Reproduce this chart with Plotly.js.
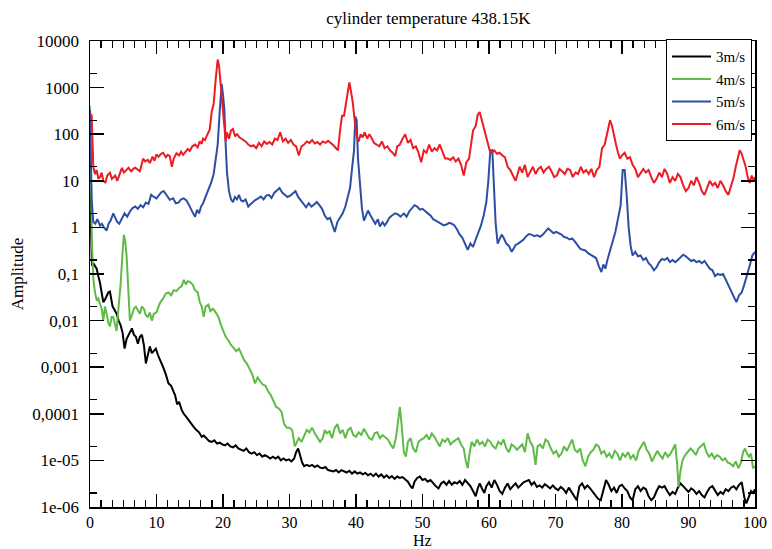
<!DOCTYPE html>
<html>
<head>
<meta charset="utf-8">
<script src="https://cdn.plot.ly/plotly-3.0.1.min.js"></script>
<style>html,body{margin:0;padding:0;background:#fff;}#chart{width:772px;height:549px;}</style>
</head>
<body>
<div id="chart"></div>
<script>
const chartTitle = "cylinder temperature 438.15K";
const xTitle = "Hz";
const yTitle = "Amplitude";
const seriesNames = ["3m/s", "4m/s", "5m/s", "6m/s"];
const yTickVals = [1e4, 1e3, 100, 10, 1, 0.1, 0.01, 0.001, 0.0001, 1e-5, 1e-6];
const yTickText = ["10000", "1000", "100", "10", "1", "0,1", "0,01", "0,001", "0,0001", "1e-05", "1e-06"];
const xTickVals = [0, 10, 20, 30, 40, 50, 60, 70, 80, 90, 100];

// 3m/s (black)
const hzBlack = [0,0.15,0.3,0.5,0.75,1.0,1.25,1.5,1.75,2.0,2.25,2.5,2.75,3.0,3.2,3.4,3.6,3.8,4.0,4.3,4.6,4.9,5.2,5.5,5.8,6.1,6.3,6.6,6.9,7.2,7.5,7.8,8.1,8.4,8.7,9.0,9.3,9.6,9.9,10.3,10.6,11.0,11.4,11.8,12.2,12.5,12.8,13.1,13.4,13.8,14.1,14.5,14.9,15.3,15.7,16.0,16.4,16.8,17.1,17.5,17.9,18.3,18.7,19.1,19.5,19.9,20.3,20.7,21.1,21.5,21.9,22.3,22.7,23.1,23.5,23.9,24.3,24.7,25.1,25.5,25.9,26.3,26.7,27.1,27.5,27.9,28.3,28.7,29.1,29.5,29.9,30.3,30.7,31.0,31.3,31.6,31.9,32.2,32.6,33.0,33.4,33.8,34.2,34.6,35.0,35.4,35.8,36.2,36.6,37.0,37.4,37.8,38.2,38.6,39.0,39.4,39.8,40.2,40.6,41.0,41.4,41.8,42.2,42.6,43.0,43.4,43.8,44.2,44.6,45.0,45.4,45.8,46.2,46.6,47.0,47.4,47.8,48.2,48.5,48.8,49.2,49.6,50.0,50.4,50.8,51.2,51.6,52.0,52.4,52.8,53.2,53.6,54.0,54.4,54.8,55.2,55.6,56.0,56.4,56.8,57.2,57.6,58.0,58.3,58.6,59.0,59.3,59.6,60.0,60.4,60.8,61.2,61.6,62.0,62.4,62.8,63.2,63.6,64.0,64.4,64.8,65.2,65.6,66.0,66.4,66.8,67.2,67.6,68.0,68.4,68.8,69.2,69.6,70.0,70.4,70.8,71.2,71.6,72.0,72.4,72.8,73.2,73.6,74.0,74.4,74.8,75.2,75.6,76.0,76.4,76.8,77.2,77.6,78.0,78.4,78.8,79.2,79.6,80.0,80.4,80.8,81.2,81.6,82.0,82.4,82.8,83.2,83.6,84.0,84.4,84.8,85.2,85.6,86.0,86.4,86.8,87.2,87.6,88.0,88.4,88.8,89.2,89.6,90.0,90.4,90.8,91.2,91.6,92.0,92.4,92.8,93.2,93.6,94.0,94.4,94.8,95.2,95.6,96.0,96.4,96.8,97.2,97.6,98.0,98.4,98.7,99.0,99.4,99.7,100];
const ampBlack = [6,0.9,0.15,0.17,0.15,0.13,0.09,0.065,0.04,0.025,0.028,0.035,0.04,0.042,0.03,0.02,0.018,0.016,0.014,0.01,0.008,0.0055,0.0025,0.004,0.005,0.006,0.0068,0.005,0.0045,0.0032,0.0045,0.005,0.003,0.0012,0.002,0.0028,0.002,0.0022,0.0025,0.0017,0.0014,0.001,0.0007,0.00045,0.0004,0.00032,0.00025,0.00016,0.00018,0.00012,0.0001,0.000085,0.00007,0.00006,0.00005,0.000045,0.00004,0.000032,0.000034,0.00003,0.000026,0.000025,0.000027,0.000023,0.000024,0.000022,0.000021,0.000023,0.00002,0.000019,0.000021,0.000018,0.000017,0.000016,0.000018,0.000015,0.000014,0.000015,0.000013,0.000014,0.000012,0.000013,0.000012,0.000011,0.000012,0.000011,0.000012,0.00001,0.000011,0.00001,0.0000105,0.0000095,0.000011,0.000015,0.000018,0.000012,0.000009,0.0000075,0.000008,0.0000075,0.000008,0.0000072,0.0000078,0.000007,0.0000068,0.0000072,0.0000062,0.000006,0.0000058,0.0000062,0.0000055,0.0000062,0.0000058,0.0000055,0.000006,0.0000052,0.0000058,0.0000052,0.0000055,0.000005,0.0000054,0.0000048,0.0000052,0.0000046,0.0000052,0.0000045,0.000005,0.0000043,0.0000048,0.0000042,0.0000046,0.000004,0.0000045,0.0000042,0.0000044,0.000004,0.0000035,0.0000028,0.0000025,0.0000035,0.0000042,0.0000045,0.0000038,0.000004,0.0000035,0.0000038,0.0000032,0.0000028,0.0000025,0.0000032,0.0000035,0.000003,0.0000036,0.000003,0.0000034,0.0000032,0.0000036,0.000003,0.0000038,0.0000032,0.0000028,0.0000022,0.0000017,0.0000025,0.0000032,0.0000024,0.000002,0.0000028,0.0000034,0.0000026,0.0000038,0.000003,0.0000022,0.0000019,0.0000026,0.0000032,0.0000024,0.0000028,0.0000032,0.0000026,0.000003,0.0000034,0.0000036,0.0000038,0.000003,0.0000034,0.0000027,0.0000029,0.0000026,0.0000031,0.0000028,0.0000025,0.0000029,0.0000025,0.0000023,0.0000027,0.0000024,0.000002,0.0000026,0.0000021,0.0000017,0.0000014,0.0000028,0.0000032,0.0000025,0.0000029,0.0000025,0.0000021,0.0000018,0.0000015,0.0000014,0.0000025,0.0000038,0.000003,0.0000022,0.0000026,0.000002,0.0000028,0.000003,0.0000025,0.0000022,0.0000016,0.0000014,0.0000024,0.0000028,0.0000022,0.0000026,0.0000024,0.0000017,0.0000014,0.0000016,0.0000022,0.0000028,0.0000026,0.0000028,0.0000022,0.0000018,0.0000021,0.0000019,0.0000026,0.0000032,0.0000028,0.0000024,0.0000021,0.0000025,0.0000023,0.0000019,0.0000022,0.0000018,0.0000016,0.0000021,0.0000026,0.0000028,0.0000022,0.0000018,0.0000021,0.0000019,0.0000024,0.0000022,0.0000026,0.0000028,0.0000024,0.000003,0.0000034,0.0000016,0.0000012,0.0000015,0.0000022,0.000002,0.0000024];

// 4m/s (green)
const hzGreen = [0,0.15,0.3,0.5,0.75,1.0,1.25,1.5,1.75,2.0,2.25,2.5,2.75,3.0,3.25,3.5,3.75,4.0,4.3,4.6,4.9,5.1,5.3,5.5,5.75,6.0,6.3,6.6,6.9,7.2,7.5,7.8,8.1,8.4,8.7,9.0,9.3,9.6,10.0,10.3,10.6,11.0,11.4,11.8,12.2,12.6,13.0,13.4,13.8,14.1,14.4,14.7,15.0,15.4,15.8,16.2,16.5,16.8,17.1,17.4,17.8,18.1,18.5,18.9,19.3,19.7,20.0,20.4,20.8,21.2,21.6,22.0,22.4,22.8,23.2,23.6,24.0,24.4,24.8,25.2,25.6,26.0,26.4,26.8,27.2,27.6,28.0,28.4,28.8,29.2,29.6,30.0,30.4,30.8,31.1,31.4,31.8,32.2,32.6,33.0,33.4,33.8,34.2,34.6,35.0,35.3,35.6,36.0,36.4,36.8,37.2,37.6,38.0,38.4,38.8,39.2,39.6,40.0,40.4,40.8,41.2,41.6,42.0,42.4,42.8,43.2,43.6,44.0,44.4,44.8,45.2,45.6,46.0,46.3,46.6,46.9,47.2,47.5,47.8,48.2,48.6,49.0,49.4,49.8,50.2,50.6,51.0,51.4,51.8,52.2,52.6,53.0,53.4,53.8,54.2,54.6,55.0,55.4,55.8,56.2,56.5,56.8,57.1,57.4,57.8,58.2,58.6,59.0,59.4,59.8,60.2,60.6,61.0,61.4,61.8,62.2,62.6,63.0,63.4,63.8,64.2,64.6,65.0,65.4,65.8,66.2,66.6,67.0,67.3,67.7,68.1,68.5,68.9,69.3,69.7,70.1,70.5,70.9,71.3,71.7,72.1,72.5,72.9,73.3,73.7,74.1,74.5,74.9,75.3,75.7,76.1,76.5,76.9,77.3,77.7,78.1,78.5,78.9,79.3,79.7,80.1,80.5,80.9,81.3,81.7,82.1,82.5,82.9,83.3,83.7,84.1,84.5,84.9,85.3,85.7,86.1,86.5,86.9,87.3,87.7,88.0,88.3,88.5,88.8,89.1,89.5,89.9,90.3,90.7,91.1,91.5,91.9,92.3,92.7,93.1,93.5,93.9,94.3,94.7,95.1,95.5,95.9,96.3,96.7,97.1,97.5,97.9,98.2,98.5,98.8,99.1,99.4,99.7,100];
const ampGreen = [400,20,0.4,0.08,0.04,0.028,0.03,0.023,0.018,0.01,0.02,0.014,0.009,0.0075,0.012,0.012,0.009,0.006,0.02,0.06,0.3,0.7,0.5,0.25,0.05,0.01,0.013,0.018,0.02,0.016,0.014,0.02,0.018,0.013,0.012,0.015,0.01,0.014,0.015,0.02,0.025,0.03,0.038,0.04,0.035,0.045,0.043,0.05,0.055,0.075,0.06,0.07,0.068,0.06,0.045,0.04,0.025,0.02,0.012,0.02,0.022,0.016,0.018,0.015,0.012,0.008,0.006,0.0045,0.0038,0.003,0.0026,0.0022,0.0025,0.0018,0.0014,0.0012,0.0009,0.0007,0.00045,0.0006,0.0005,0.00042,0.0004,0.0003,0.00025,0.00018,0.00014,0.00013,0.00011,0.00006,0.00005,0.00005,0.000045,0.00002,0.000025,0.00003,0.000025,0.000035,0.000045,0.00004,0.00005,0.000038,0.00003,0.000025,0.00003,0.000045,0.000038,0.000042,0.00003,0.00005,0.00006,0.000038,0.000045,0.00003,0.000045,0.00005,0.000035,0.000032,0.00004,0.000035,0.000048,0.000038,0.00003,0.000028,0.000038,0.00004,0.00003,0.000035,0.000032,0.000028,0.000022,0.000018,0.00003,0.00007,0.00014,0.00005,0.000015,0.000012,0.000025,0.00003,0.000018,0.000015,0.000025,0.000028,0.00003,0.000035,0.000028,0.000038,0.000032,0.000025,0.00002,0.000028,0.000025,0.00003,0.000022,0.000025,0.000028,0.00003,0.000022,0.000018,0.00001,0.0000068,0.000015,0.000025,0.00002,0.000028,0.000022,0.000025,0.00002,0.000028,0.000025,0.00002,0.000018,0.000025,0.000022,0.000028,0.000018,0.000015,0.000022,0.00002,0.000017,0.000019,0.000022,0.000015,0.000038,0.000025,0.00002,0.000008,0.00002,0.000022,0.000018,0.000028,0.000025,0.000018,0.000014,0.000016,0.000012,0.000014,0.00002,0.000016,0.000022,0.000028,0.000017,0.000015,0.000018,0.00001,0.0000075,0.000012,0.000015,0.000017,0.000022,0.00002,0.000014,0.000016,0.000012,0.000014,0.000011,0.000016,0.000014,0.00001,0.000014,0.000012,0.000015,0.000011,0.000013,0.00001,0.000016,0.00002,0.000025,0.000017,0.000014,0.0000095,0.000012,0.000016,0.000013,0.000011,0.000015,0.000012,0.000014,0.000018,0.000022,0.000008,0.0000027,0.000006,0.00001,0.000013,0.000015,0.000018,0.000016,0.000013,0.000018,0.00002,0.000023,0.000015,0.000012,0.000014,0.000011,0.000013,0.000012,0.00001,0.000011,0.000009,0.0000085,0.0000075,0.0000095,0.0000068,0.000009,0.000015,0.000018,0.000014,0.000012,0.000014,0.0000068,0.0000075];

// 5m/s (blue)
const hzBlue = [0,0.25,0.5,0.8,1.1,1.5,1.8,2.1,2.5,2.8,3.1,3.5,3.8,4.1,4.4,4.8,5.2,5.6,6.0,6.4,6.8,7.2,7.6,8.0,8.4,8.8,9.2,9.6,10.0,10.4,10.8,11.1,11.5,12.0,12.5,12.9,13.3,13.7,14.1,14.5,14.9,15.2,15.5,15.8,16.1,16.4,16.7,17.0,17.4,17.8,18.2,18.6,18.9,19.2,19.5,19.8,20.0,20.2,20.4,20.6,20.9,21.2,21.5,21.8,22.1,22.4,22.7,23.0,23.4,23.8,24.1,24.5,24.9,25.3,25.7,26.1,26.5,26.9,27.3,27.7,28.1,28.5,28.9,29.3,29.7,30.1,30.5,30.9,31.3,31.7,32.1,32.5,32.9,33.3,33.7,34.1,34.5,34.9,35.3,35.7,36.1,36.5,36.8,37.2,37.6,38.0,38.4,38.8,39.1,39.4,39.7,39.9,40.1,40.3,40.6,40.9,41.2,41.5,41.8,42.1,42.5,42.9,43.3,43.6,44.0,44.3,44.6,45.0,45.4,45.9,46.3,46.7,47.2,47.6,48.0,48.4,48.8,49.2,49.6,50.0,50.4,50.8,51.2,51.6,52.0,52.4,52.8,53.2,53.6,54.0,54.4,54.8,55.2,55.6,56.0,56.4,56.8,57.2,57.6,58.0,58.4,58.8,59.2,59.6,59.9,60.2,60.5,60.7,61.0,61.3,61.6,61.9,62.2,62.6,63.0,63.4,63.7,64.0,64.4,64.8,65.2,65.6,66.0,66.4,66.8,67.2,67.7,68.1,68.5,68.9,69.3,69.7,70.1,70.5,70.9,71.3,71.7,72.1,72.5,72.9,73.3,73.7,74.1,74.5,74.9,75.3,75.7,76.1,76.5,76.9,77.2,77.5,77.8,78.2,78.6,79.0,79.4,79.8,80.1,80.4,80.7,81.0,81.3,81.6,82.0,82.4,82.8,83.2,83.6,84.0,84.4,84.8,85.2,85.6,86.0,86.4,86.8,87.2,87.6,88.0,88.4,88.8,89.2,89.6,90.0,90.4,90.8,91.2,91.6,92.0,92.4,92.8,93.2,93.6,94.0,94.4,94.8,95.2,95.6,96.0,96.4,96.8,97.2,97.6,98.0,98.4,98.8,99.2,99.6,100];
const ampBlue = [330,4,1.3,1.2,1.5,1.1,1.2,1.0,0.85,1.2,1.4,2.0,1.6,1.3,1.2,1.6,2.0,1.7,2.2,2.6,2.8,2.5,3.0,2.7,3.4,3.2,5.0,4.5,4.2,5.0,5.8,6.0,4.8,3.9,4.2,3.3,3.4,4.0,4.2,3.8,3.0,2.4,2.0,1.7,2.4,2.0,2.8,3.3,4.5,6.5,9,14,30,60,300,1200,700,350,60,15,6,4.0,3.5,4.5,4.0,5.0,3.8,3.6,4.0,2.8,3.1,3.5,3.9,4.2,4.6,4.0,4.8,5.0,4.3,5.5,6.2,7.0,5.6,5.0,4.5,4.8,5.5,6.0,4.5,3.8,3.3,2.7,3.3,2.8,3.1,3.5,3.0,2.5,1.8,1.5,1.6,1.1,0.8,1.3,1.6,2.0,2.8,4.5,7,18,45,240,200,30,8,2.5,1.4,1.8,2.3,1.9,1.5,1.2,1.5,1.05,1.3,1.1,1.25,1.6,1.8,2.0,1.9,1.7,2.0,1.7,2.2,2.6,3.0,2.8,2.4,2.5,2.2,2.0,1.8,1.5,1.4,1.3,1.2,1.1,1.15,1.25,1.2,1.1,0.9,0.7,0.6,0.45,0.33,0.45,0.38,0.55,0.75,1.1,1.8,3.5,10,45,45,8,1.2,0.45,0.55,0.7,0.6,0.45,0.4,0.3,0.35,0.42,0.45,0.5,0.55,0.65,0.72,0.7,0.65,0.68,0.63,0.7,0.8,0.95,0.85,0.75,0.8,0.75,0.7,0.62,0.6,0.55,0.58,0.5,0.42,0.35,0.33,0.32,0.28,0.26,0.24,0.22,0.15,0.11,0.16,0.13,0.2,0.3,0.5,0.8,1.5,3,17,17,5,1.0,0.4,0.25,0.3,0.24,0.25,0.2,0.22,0.17,0.15,0.12,0.14,0.18,0.21,0.2,0.22,0.18,0.2,0.18,0.2,0.23,0.26,0.24,0.21,0.19,0.2,0.18,0.19,0.17,0.19,0.16,0.13,0.12,0.09,0.1,0.095,0.1,0.075,0.055,0.045,0.032,0.025,0.035,0.04,0.06,0.09,0.15,0.25,0.3];

// 6m/s (red)
const hzRed = [0,0.25,0.5,0.75,1.0,1.25,1.5,1.75,2.0,2.3,2.6,3.0,3.3,3.6,3.8,4.1,4.5,4.8,5.1,5.5,5.8,6.2,6.5,6.8,7.2,7.5,8.0,8.3,8.7,9.0,9.4,9.7,10.0,10.3,10.7,11.0,11.4,11.7,12.0,12.3,12.6,13.0,13.4,13.7,14.0,14.3,14.7,15.0,15.4,15.8,16.2,16.5,16.8,17.0,17.3,17.6,18.0,18.3,18.6,18.9,19.2,19.4,19.6,19.8,20.1,20.4,20.6,20.9,21.2,21.5,21.8,22.1,22.5,23.0,23.4,23.8,24.2,24.6,25.0,25.4,25.8,26.2,26.6,27.0,27.4,27.8,28.2,28.6,29.0,29.4,29.8,30.2,30.6,31.0,31.4,31.8,32.2,32.6,33.0,33.4,33.8,34.2,34.6,35.0,35.4,35.8,36.2,36.6,37.0,37.3,37.6,37.9,38.2,38.5,38.8,39.0,39.2,39.5,39.8,40.1,40.4,40.7,41.0,41.3,41.7,42.0,42.3,42.7,43.1,43.5,43.9,44.3,44.7,45.1,45.5,45.9,46.2,46.6,47.0,47.4,47.8,48.2,48.6,49.0,49.4,49.8,50.2,50.6,51.0,51.4,51.8,52.2,52.6,53.0,53.4,53.8,54.2,54.6,55.0,55.4,55.8,56.2,56.6,57.0,57.3,57.6,58.0,58.3,58.6,58.9,59.2,59.5,59.8,60.1,60.4,60.8,61.2,61.6,62.0,62.4,62.8,63.2,63.6,64.0,64.3,64.6,65.0,65.4,65.8,66.2,66.6,67.0,67.4,67.8,68.2,68.6,69.0,69.4,69.8,70.2,70.6,71.0,71.4,71.8,72.2,72.6,73.0,73.4,73.8,74.2,74.6,75.0,75.4,75.8,76.2,76.6,77.0,77.4,77.7,78.0,78.2,78.5,78.8,79.1,79.4,79.7,80.0,80.4,80.8,81.2,81.6,82.0,82.4,82.8,83.2,83.6,84.0,84.4,84.8,85.2,85.6,86.0,86.4,86.8,87.2,87.6,88.0,88.4,88.8,89.2,89.6,90.0,90.4,90.8,91.2,91.6,92.0,92.4,92.8,93.2,93.6,94.0,94.4,94.8,95.2,95.6,96.0,96.4,96.8,97.1,97.4,97.7,98.0,98.3,98.6,98.9,99.2,99.5,99.8,100];
const ampRed = [280,250,20,14,17,11,12,15,10,9,13,15,11,12,13,10,14,19,15,17,19,16,18,19,17,16,30,26,28,24,33,27,37,33,38,40,32,36,34,20,30,39,35,42,36,41,48,44,55,60,52,70,62,80,75,95,125,300,450,1500,4000,3000,1400,600,150,70,110,80,120,130,90,100,85,75,70,60,55,58,50,65,55,70,62,68,60,80,75,110,70,80,65,75,60,55,35,55,60,70,65,75,63,68,60,70,65,72,66,58,50,45,120,250,250,500,900,1300,900,500,200,90,70,100,85,110,80,100,85,65,60,55,70,50,55,45,40,34,55,60,80,100,65,75,50,55,40,25,45,40,60,42,50,45,60,40,30,30,28,32,26,30,22,13,25,30,60,120,150,260,300,200,150,100,60,45,40,45,38,40,35,32,20,17,13,10,14,20,15,22,12,15,20,14,18,20,15,18,20,16,12,13,18,16,14,18,17,12,15,14,20,15,17,14,18,12,17,20,50,60,100,170,200,150,90,60,40,30,35,40,30,32,22,18,12,15,18,15,17,12,9,11,15,12,18,14,9,12,10,14,12,8,6,7,10,8,12,9,6,5,7,10,8,9,7,10,8,6,5,8,12,20,30,45,38,28,20,12,9,13,10,12];

const font = "'Liberation Serif', 'Times New Roman', serif";
const colors = ["#000000", "#5dbb46", "#2d4fa3", "#ec1c24"];
const xs = [hzBlack, hzGreen, hzBlue, hzRed];
const ys = [ampBlack, ampGreen, ampBlue, ampRed];

const traces = seriesNames.map((n, i) => ({
  x: xs[i], y: ys[i], name: n, type: "scatter", mode: "lines",
  line: {color: colors[i], width: 2}, hoverinfo: "skip"
}));

const yMinor = [2e-6, 2e-5, 2e-4, 2e-3, 2e-2, 0.2, 2, 20, 200, 2000];

const layout = {
  width: 772, height: 549,
  margin: {l: 90, r: 17, t: 41, b: 42},
  paper_bgcolor: "#ffffff", plot_bgcolor: "#ffffff",
  font: {family: font, size: 17, color: "#000"},
  showlegend: true,
  title: {text: chartTitle, font: {family: font, size: 17, color: "#000"},
          x: 0.555, xref: "container", xanchor: "center", y: 0.967, yref: "container", yanchor: "middle"},
  xaxis: {
    range: [0, 100], showgrid: false, zeroline: false, automargin: false,
    showline: true, linecolor: "#000", linewidth: 1.5, mirror: "ticks",
    ticks: "inside", ticklen: 13, tickwidth: 1.5, tickcolor: "#000",
    tickmode: "array", tickvals: xTickVals, ticktext: xTickVals.map(String),
    tickfont: {family: font, size: 16}, ticklabelstandoff: 0,
    minor: {tickmode: "linear", tick0: 0, dtick: 10/6, ticks: "inside", ticklen: 7, tickwidth: 1.2, tickcolor: "#000", showgrid: false}
  },
  yaxis: {
    type: "log", range: [-6, 4], showgrid: false, zeroline: false, automargin: false,
    showline: true, linecolor: "#000", linewidth: 1.5, mirror: "ticks",
    ticks: "inside", ticklen: 14, tickwidth: 1.5, tickcolor: "#000",
    tickmode: "array", tickvals: yTickVals, ticktext: yTickText,
    tickfont: {family: font, size: 17}, ticklabelstandoff: 6,
    minor: {tickmode: "array", tickvals: yMinor, ticks: "inside", ticklen: 7, tickwidth: 1.2, tickcolor: "#000", showgrid: false},
    title: {text: yTitle, font: {family: font, size: 17}, standoff: 4}
  },
  annotations: [{
    text: xTitle, xref: "paper", yref: "paper", x: 0.5, y: -0.071,
    xanchor: "center", yanchor: "middle", showarrow: false,
    font: {family: font, size: 16, color: "#000"}
  }],
  legend: {
    x: 0.9955, xanchor: "right", y: 1.004, yanchor: "top",
    bgcolor: "#ffffff", bordercolor: "#000", borderwidth: 1,
    font: {family: font, size: 15}, tracegroupgap: 0, itemwidth: 39
  }
};

Plotly.newPlot("chart", traces, layout, {staticPlot: true, displayModeBar: false});
</script>
</body>
</html>
